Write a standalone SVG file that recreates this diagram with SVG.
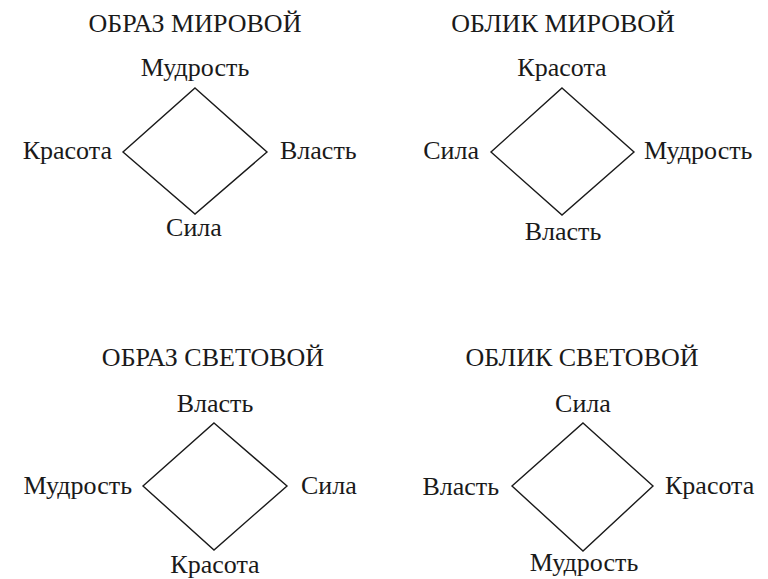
<svg xmlns="http://www.w3.org/2000/svg" width="768" height="579" viewBox="0 0 768 579">
<style>
text{font-family:"Liberation Serif","DejaVu Serif","Times New Roman",serif;font-size:26px;fill:#1a1a1a}
.m{text-anchor:middle}.e{text-anchor:end}.s{text-anchor:start}
.d{fill:none;stroke:#1a1a1a;stroke-width:1.4;stroke-linejoin:miter}
</style>
<rect width="768" height="579" fill="#fff"/>
<g id="connectors">
<polygon class="d" points="195,88 267,152 195,214 123,152"/>
<polygon class="d" points="562,88 634,152 562,215 491,152"/>
<polygon class="d" points="214,423 287,486 214,550 143,486"/>
<polygon class="d" points="583,423 653,486 583,551 512,486"/>
</g>
<g id="panel-obraz-mirovoy">
<text class="m" x="195" y="32">ОБРАЗ МИРОВОЙ</text>
<g id="n1-top"><text class="m" x="195" y="76">Мудрость</text></g>
<g id="n1-left"><text class="e" x="112" y="159">Красота</text></g>
<g id="n1-right"><text class="s" x="280" y="159">Власть</text></g>
<g id="n1-bottom"><text class="m" x="194" y="236">Сила</text></g>
</g>
<g id="panel-oblik-mirovoy">
<text class="m" x="563" y="32">ОБЛИК МИРОВОЙ</text>
<g id="n2-top"><text class="m" x="562" y="76">Красота</text></g>
<g id="n2-left"><text class="e" x="479" y="159">Сила</text></g>
<g id="n2-right"><text class="s" x="644" y="159">Мудрость</text></g>
<g id="n2-bottom"><text class="m" x="563" y="240">Власть</text></g>
</g>
<g id="panel-obraz-svetovoy">
<text class="m" x="213" y="366">ОБРАЗ СВЕТОВОЙ</text>
<g id="n3-top"><text class="m" x="215" y="412">Власть</text></g>
<g id="n3-left"><text class="e" x="132" y="494">Мудрость</text></g>
<g id="n3-right"><text class="s" x="301" y="494">Сила</text></g>
<g id="n3-bottom"><text class="m" x="215" y="573">Красота</text></g>
</g>
<g id="panel-oblik-svetovoy">
<text class="m" x="582" y="366">ОБЛИК СВЕТОВОЙ</text>
<g id="n4-top"><text class="m" x="583" y="412">Сила</text></g>
<g id="n4-left"><text class="e" x="499" y="495">Власть</text></g>
<g id="n4-right"><text class="s" x="665" y="494">Красота</text></g>
<g id="n4-bottom"><text class="m" x="584" y="571">Мудрость</text></g>
</g>
</svg>
